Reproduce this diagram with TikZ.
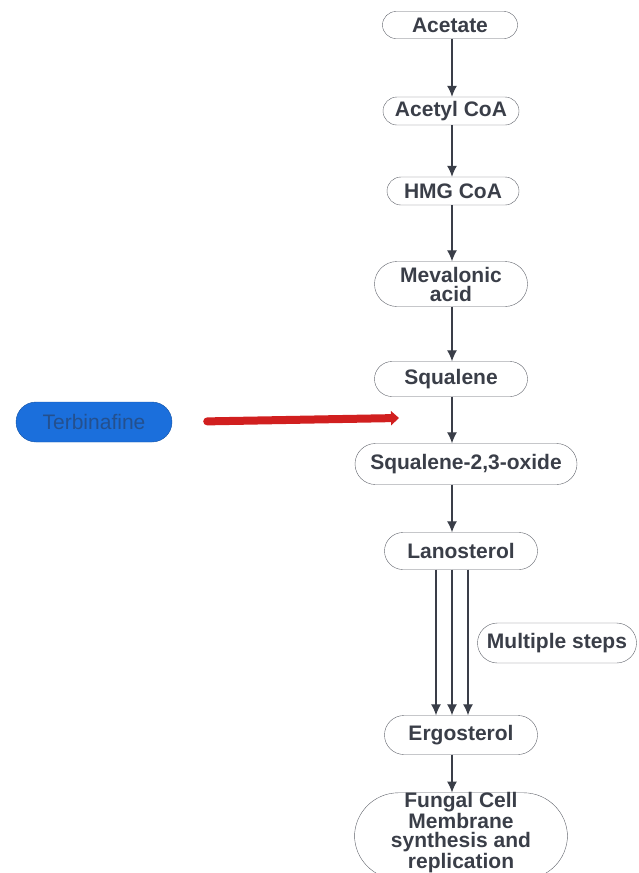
\documentclass[tikz,border=0pt]{standalone}
\usepackage{fontspec}
\setmainfont{Liberation Sans}
\usetikzlibrary{arrows.meta,shapes.misc}

\definecolor{ink}{HTML}{3A3E48}
\definecolor{edge}{HTML}{5E6169}
\definecolor{drugblue}{HTML}{1B6FDC}
\definecolor{drugtext}{HTML}{24508E}
\definecolor{blockred}{HTML}{D11F1F}

\begin{document}
\begin{tikzpicture}[x=1pt,y=-1pt,
    font=\bfseries\fontsize{21}{19}\selectfont,
    line/.style={draw=ink, line width=1.2pt, -{Latex[length=11pt,width=10pt]}},
    compound/.style={draw=edge, rounded rectangle, inner sep=0pt, text=ink, align=center},
    drug/.style={draw=drugblue!75!black, fill=drugblue, rounded rectangle, inner sep=0pt,
        text=drugtext, font=\fontsize{21}{19}\selectfont},
    block/.style={draw=blockred, line width=8pt, line cap=round, -{Triangle[length=8pt,width=14pt]}},
    ]
    \useasboundingbox (0,0) rectangle (638,873);
    \clip (0,0) rectangle (638,873);

    % Place nodes
    \node [compound, minimum width=135pt, minimum height=27pt] (acetate) at (450,25) {Acetate};
    \node [compound, minimum width=136pt, minimum height=28pt] (acetyl) at (451,111) {Acetyl CoA};
    \node [compound, minimum width=132pt, minimum height=28pt] (hmg) at (453,191) {HMG CoA};
    \node [compound, minimum width=153pt, minimum height=45pt] (meval) at (451,284) {Mevalonic\\acid};
    \node [compound, minimum width=153pt, minimum height=35pt] (squal) at (451,379) {Squalene};
    \node [compound, minimum width=222pt, minimum height=41pt] (oxide) at (466,464) {Squalene-2,3-oxide};
    \node [compound, minimum width=153pt, minimum height=37pt] (lano) at (461,551) {Lanosterol};
    \node [compound, minimum width=159pt, minimum height=40pt] (steps) at (557,643) {Multiple steps};
    \node [compound, minimum width=153pt, minimum height=39pt] (ergo) at (461,735) {Ergosterol};
    \node [draw=edge, rounded corners=44pt, text=ink, align=center, inner sep=0pt,
        text depth=11pt, minimum width=213pt, minimum height=84pt] (fungal) at (461,836)
        {Fungal Cell\\Membrane\\synthesis and\\replication};

    \node [drug, minimum width=156pt, minimum height=40pt] (terb) at (94,422) {Terbinafine};
    \coordinate (axis) at (452,0);
    \coordinate (target) at (399,418);

    % Draw edges
    \path [line] (acetate.south -| axis) -- (acetyl.north -| axis);
    \path [line] (acetyl.south -| axis) -- (hmg.north -| axis);
    \path [line] (hmg.south -| axis) -- (meval.north -| axis);
    \path [line] (meval.south -| axis) -- (squal.north -| axis);
    \path [line] (squal.south -| axis) -- (oxide.north -| axis);
    \path [line] (oxide.south -| axis) -- (lano.north -| axis);
    \foreach \dx in {-25,-9,7}
        \path [line] ([xshift=\dx pt]lano.south) -- ([xshift=\dx pt]ergo.north);
    \path [line] (ergo.south -| axis) -- (fungal.north -| axis);

    \draw [block, shorten <=35pt] (terb.east) -- (target);
\end{tikzpicture}
\end{document}
